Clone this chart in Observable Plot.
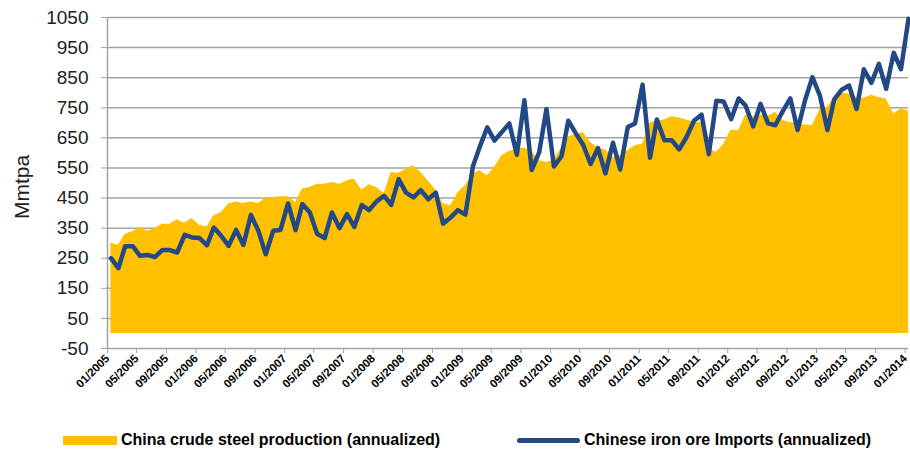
<!DOCTYPE html>
<html><head><meta charset="utf-8">
<script src="https://cdn.jsdelivr.net/npm/d3@7"></script>
<script src="https://cdn.jsdelivr.net/npm/@observablehq/plot@0.6"></script>
<style>
body{margin:0;background:#fff;}
#wrap{position:relative;width:910px;height:450px;font-family:"Liberation Sans",Arial,sans-serif;overflow:hidden;}
#chart{position:absolute;left:0;top:0;}
.ylab{position:absolute;left:22px;top:187px;transform:translate(-50%,-50%) rotate(-90deg);font-size:21px;color:#222;white-space:nowrap;}
.leg{position:absolute;top:430px;height:20px;font-size:16px;font-weight:bold;color:#000;white-space:nowrap;display:flex;align-items:center;}
</style></head><body>
<div id="wrap">
 <div id="chart"></div>
 <div class="ylab">Mmtpa</div>
 <div class="leg" style="left:63px"><span style="display:inline-block;width:54px;height:9px;background:#FFC000;margin-right:4px"></span>China crude steel production (annualized)</div>
 <div class="leg" style="left:517px"><span style="display:inline-block;width:63px;height:5px;border-radius:3px;background:#234886;margin-right:4px"></span>Chinese iron ore Imports (annualized)</div>
</div>
<script>
// Monthly series, 01/2005 .. 01/2014
const seriesNames = ["China crude steel production (annualized)", "Chinese iron ore Imports (annualized)"];
const steelProduction = [
300,293,330,338,354,340,349,363,363,378,
366,382,360,354,391,402,430,437,432,437,
432,450,452,454,454,435,480,485,496,496,
502,496,507,513,476,494,485,465,535,532,
546,557,535,507,476,432,424,468,491,530,
541,524,552,591,605,613,616,605,574,568,
576,616,654,660,668,635,616,610,585,591,
607,624,630,700,705,709,720,716,709,702,
700,612,602,628,676,674,726,720,726,722,
735,708,700,700,692,692,744,752,784,798,
796,785,782,792,784,779,729,746,739];
const ironOreImports = [
250,217,290,290,258,261,254,277,277,269,
328,319,317,293,352,324,291,344,294,394,
341,263,341,344,432,343,430,402,331,317,
402,350,397,354,427,410,439,457,427,513,
468,452,476,446,468,365,385,410,395,556,
620,685,641,670,698,594,775,543,602,746,
555,589,707,665,627,563,616,532,634,545,
686,698,827,584,711,642,642,612,652,707,
727,596,773,771,712,781,757,688,763,698,
692,739,781,676,776,852,790,676,778,810,
824,746,878,833,896,813,933,878,1046];
const xTickLabels = ["01/2005","05/2005","09/2005","01/2006","05/2006","09/2006","01/2007","05/2007","09/2007",
"01/2008","05/2008","09/2008","01/2009","05/2009","09/2009","01/2010","05/2010","09/2010",
"01/2011","05/2011","09/2011","01/2012","05/2012","09/2012","01/2013","05/2013","09/2013","01/2014"];
const yTicks = [-50,50,150,250,350,450,550,650,750,850,950,1050];

const rows = steelProduction.map((v, i) => ({
  date: new Date(Date.UTC(2005, i, 15)),
  steel: v,
  imports: ironOreImports[i]
}));
const tickDates = xTickLabels.map(s => { const [mm, yy] = s.split("/"); return new Date(Date.UTC(+yy, +mm - 1, 1)); });
const labelByTime = new Map(tickDates.map((d, i) => [+d, xTickLabels[i]]));
const xDomain = [new Date(Date.UTC(2005, 0, 1)), new Date(Date.UTC(2014, 0, 15))];
const gray = "#a3a3a3";

const chart = Plot.plot({
  width: 910, height: 405,
  marginLeft: 107, marginRight: 2, marginTop: 17, marginBottom: 57,
  x: {type: "utc", domain: xDomain},
  y: {domain: [-50, 1050]},
  style: {fontFamily: "'Liberation Sans', Arial, sans-serif", background: "#fff", overflow: "visible"},
  marks: [
    Plot.gridY(yTicks, {stroke: gray, strokeOpacity: 1, strokeWidth: 1.5}),
    Plot.areaY(rows, {x: "date", y: "steel", fill: "#FFC000"}),
    Plot.lineY(rows, {x: "date", y: "imports", stroke: "#234886", strokeWidth: 4.5, strokeLinejoin: "round", strokeLinecap: "round"}),
    Plot.ruleX([xDomain[0]], {y1: -50, y2: 1050, stroke: gray, strokeWidth: 1.5}),
    Plot.axisY(yTicks, {tickSize: 6, tickPadding: 13, fontSize: 19, stroke: gray, fill: "#222", label: null,
      tickFormat: d => String(d)}),
    Plot.axisX(tickDates, {tickFormat: d => labelByTime.get(+d), tickRotate: -45, tickSize: 5, tickPadding: 3,
      dx: 0, fontSize: 11.5, fontWeight: "bold", stroke: gray, fill: "#000", label: null})
  ]
});
document.getElementById("chart").appendChild(chart);
</script>
</body></html>
